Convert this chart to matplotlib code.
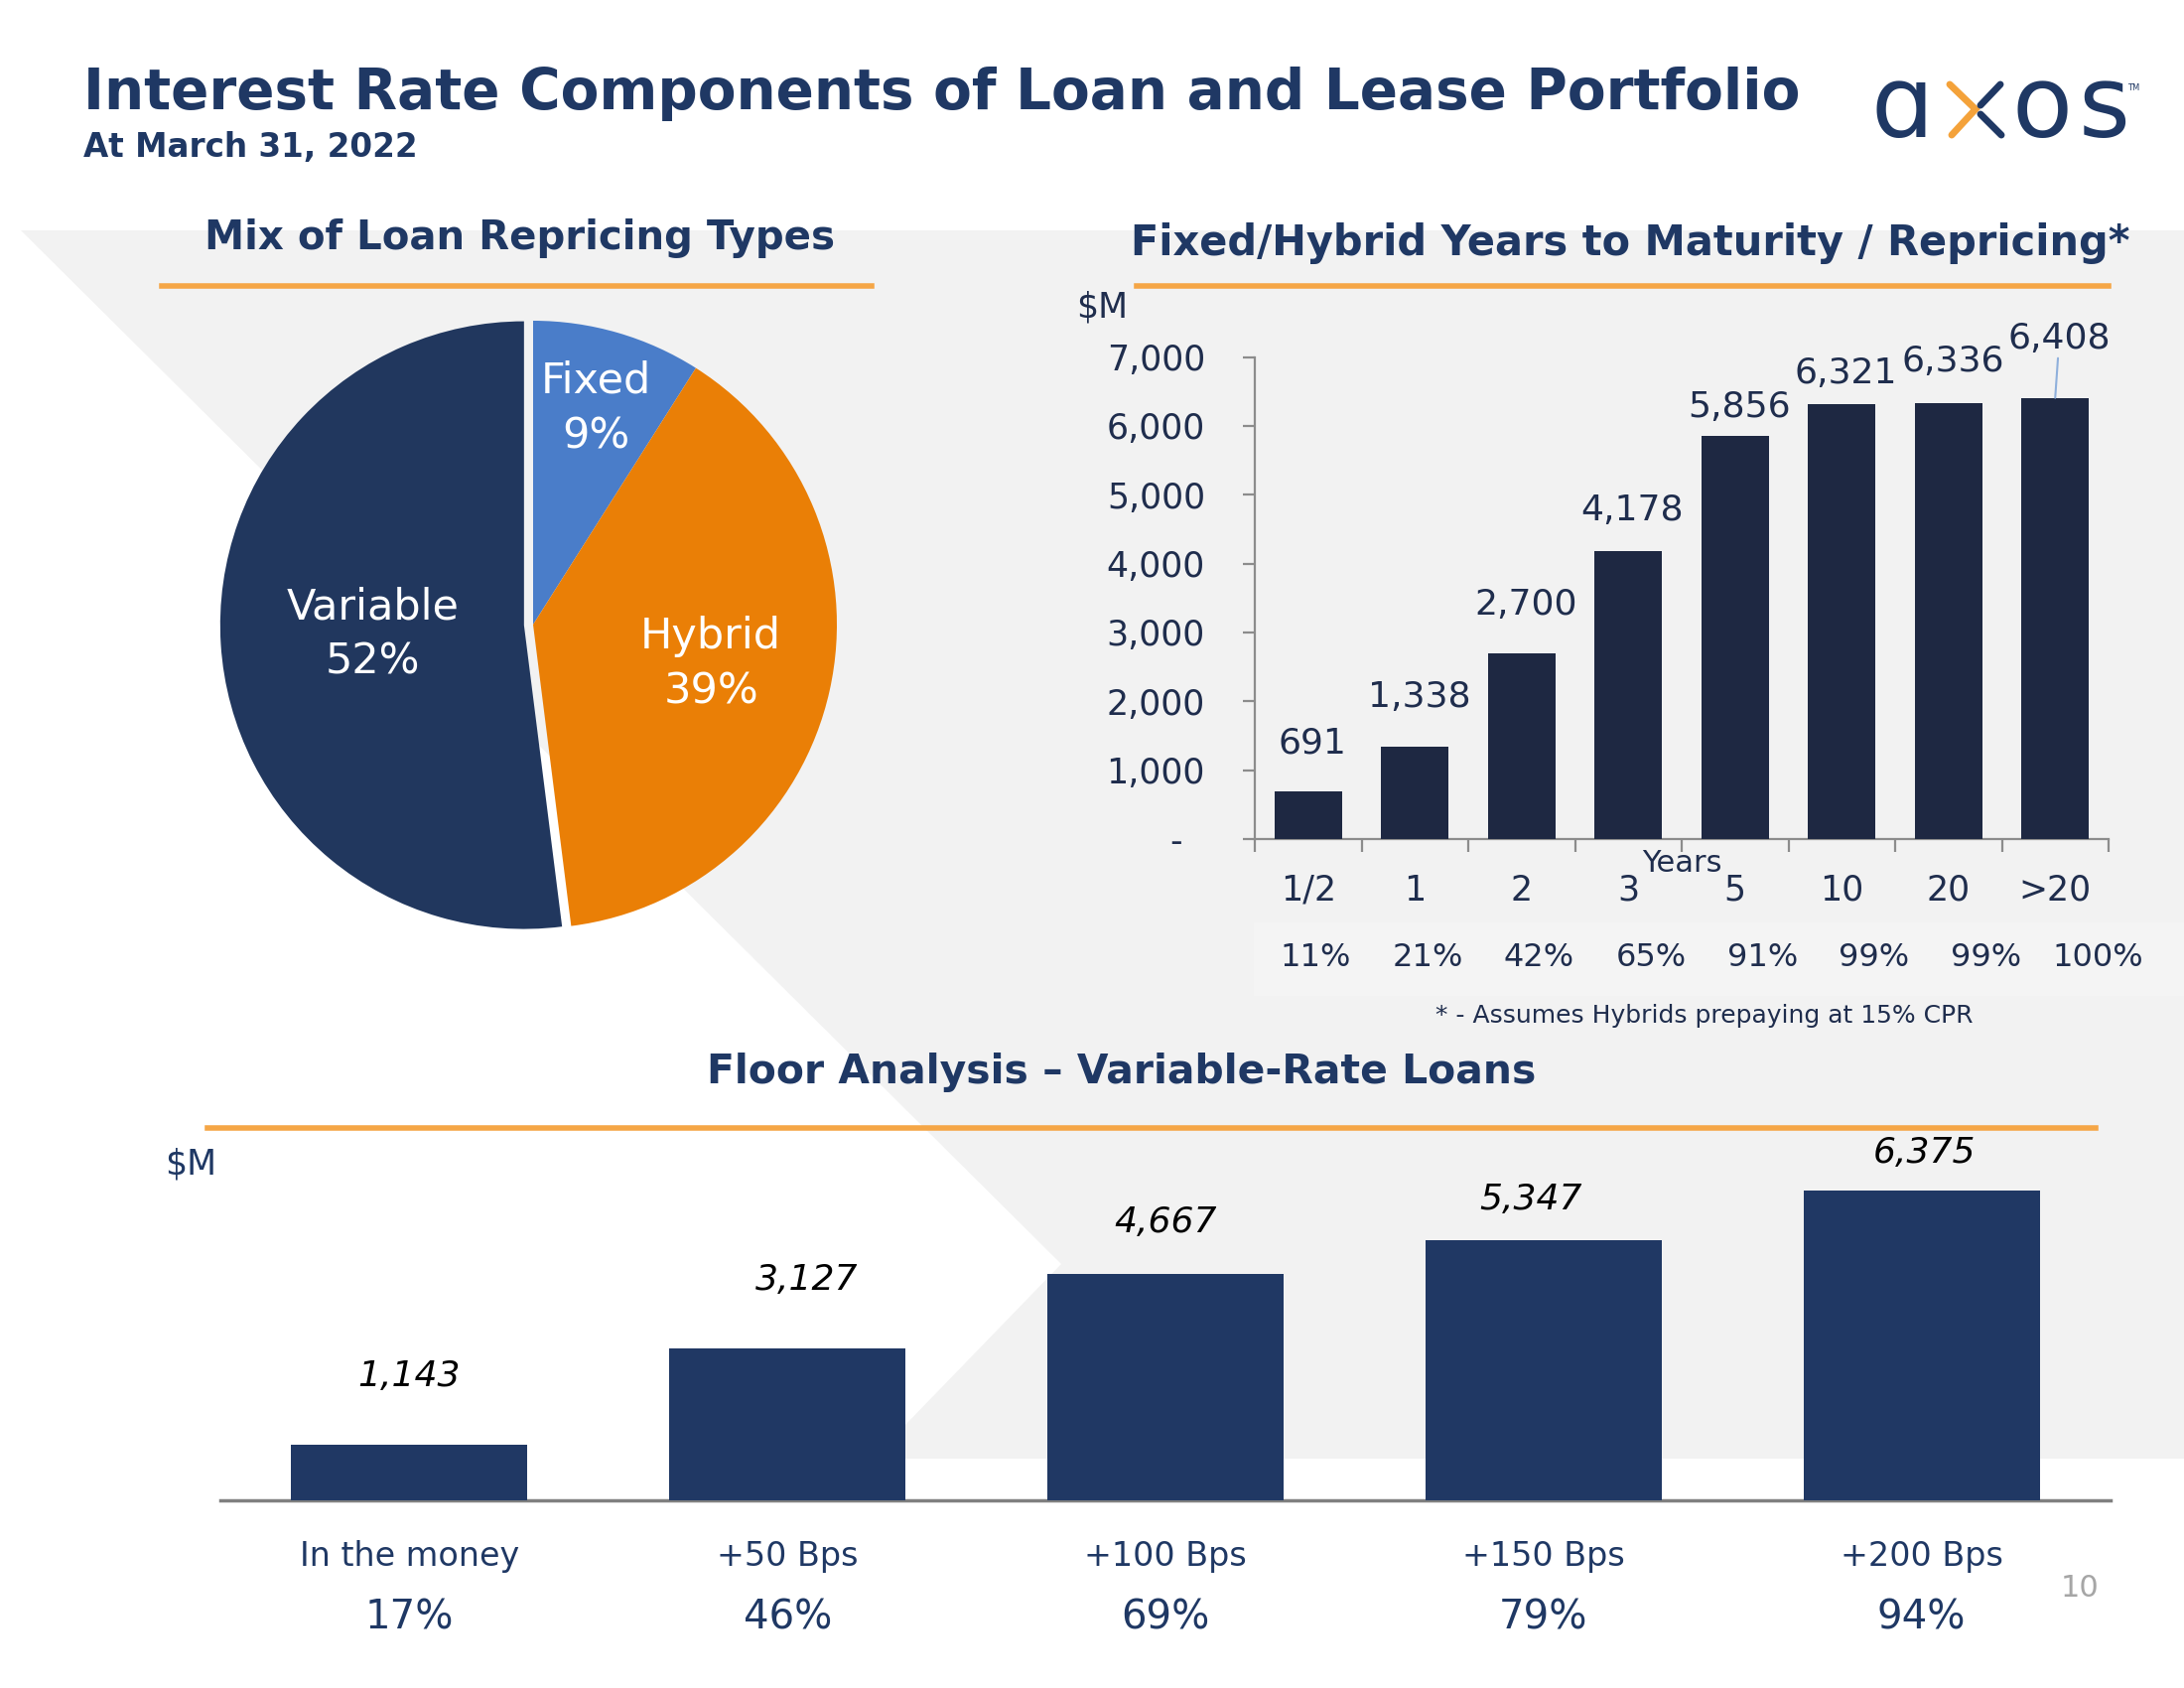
import numpy as np
import matplotlib.pyplot as plt
from matplotlib.patches import Polygon, Rectangle
from matplotlib.lines import Line2D
from matplotlib.ticker import FuncFormatter

# --- data -------------------------------------------------------------
mix_labels = ["Fixed", "Hybrid", "Variable"]
mix_pct = [9, 39, 52]

years = ["1/2", "1", "2", "3", "5", "10", "20", ">20"]
cum_balance = [691, 1338, 2700, 4178, 5856, 6321, 6336, 6408]
cum_pct = ["11%", "21%", "42%", "65%", "91%", "99%", "99%", "100%"]

floor_cats = ["In the money", "+50 Bps", "+100 Bps", "+150 Bps", "+200 Bps"]
floor_balance = [1143, 3127, 4667, 5347, 6375]
floor_pct = ["17%", "46%", "69%", "79%", "94%"]

# --- style ------------------------------------------------------------
NAVY = "#1F3864"
DARK = "#1E2842"
BAR2 = "#203864"
ORANGE = "#F5A646"
GRAY_BG = "#F2F2F2"
TXT = "#1F2D4D"
pie_colors = ["#4A7DC9", "#EA7F06", "#21375E"]

plt.rcParams['font.family'] = ['DejaVu Sans']

W, H = 2200, 1700
fig = plt.figure(figsize=(22, 17), dpi=100)

bg = fig.add_axes([0, 0, 1, 1], zorder=0)
bg.set_xlim(0, W)
bg.set_ylim(H, 0)
bg.axis('off')


def px_axes(x0, y0, x1, y1):
    a = fig.add_axes([x0 / W, 1 - y1 / H, (x1 - x0) / W, (y1 - y0) / H], zorder=2)
    a.patch.set_alpha(0)
    return a


# background shape
bg.add_patch(Polygon([(21, 232), (2200, 232), (2200, 1469), (879, 1469), (1069, 1273)],
                     closed=True, fc=GRAY_BG, ec='none'))
bg.add_patch(Rectangle((1263, 929), 937, 74, fc="#F4F4F4", ec='none'))

# titles
bg.text(84, 94, "Interest Rate Components of Loan and Lease Portfolio", fontsize=40.7,
        weight='bold', color=NAVY, va='center', ha='left')
bg.text(84, 148, "At March 31, 2022", fontsize=23.5, weight='bold', color=NAVY,
        va='center', ha='left')

# logo
bg.text(1916, 138, "\u0251", fontsize=72, color=NAVY, ha='center', va='baseline')
bg.text(2057, 138, "o", fontsize=72, color=NAVY, ha='center', va='baseline')
bg.text(2120, 138, "s", fontsize=72, color=NAVY, ha='center', va='baseline')
bg.add_line(Line2D([1964, 1990, 1966], [85, 110, 136], color="#F4A23A", lw=5,
                   solid_capstyle='round', solid_joinstyle='miter'))
bg.add_line(Line2D([1995, 2015], [106, 85], color=NAVY, lw=5, solid_capstyle='round'))
bg.add_line(Line2D([1995, 2016], [115, 136], color=NAVY, lw=5, solid_capstyle='round'))
bg.text(2149, 88, "TM", fontsize=6, color=NAVY, ha='center', va='center')

# section headers + orange rules
bg.text(524, 240, "Mix of Loan Repricing Types", fontsize=29, weight='bold',
        color=NAVY, ha='center', va='center')
bg.plot([163, 878], [288, 288], color=ORANGE, lw=4)
bg.text(1642, 245, "Fixed/Hybrid Years to Maturity / Repricing*", fontsize=29.9,
        weight='bold', color=NAVY, ha='center', va='center')
bg.plot([1145, 2124], [288, 288], color=ORANGE, lw=4)
bg.text(1130, 1080, "Floor Analysis \u2013 Variable-Rate Loans", fontsize=29.4,
        weight='bold', color=NAVY, ha='center', va='center')
bg.plot([209, 2111], [1136, 1136], color=ORANGE, lw=4)

bg.text(1110, 309, "$M", fontsize=25, color=TXT, ha='center', va='center')
bg.text(192, 1173, "$M", fontsize=25, color=NAVY, ha='center', va='center')
bg.text(1717, 1023, "* - Assumes Hybrids prepaying at 15% CPR", fontsize=18,
        color=TXT, ha='center', va='center')
bg.text(2095, 1600, "10", fontsize=22, color="#A6A6A6", ha='center', va='center')

# --- pie --------------------------------------------------------------
R = 306
pad = 1.12
axp = px_axes(537 - R * pad, 629 - R * pad, 537 + R * pad, 629 + R * pad)
wedges, _ = axp.pie(mix_pct, colors=pie_colors, startangle=90, counterclock=False,
                    explode=[0, 0, 0.03], radius=1)
axp.set_xlim(-pad, pad)
axp.set_ylim(-pad, pad)
axp.set_aspect('equal')
axp.axis('off')
label_r = [0.74, 0.6, 0.5]
for w, name, p, lr in zip(wedges, mix_labels, mix_pct, label_r):
    ang = np.deg2rad((w.theta1 + w.theta2) / 2)
    cx, cy = w.center
    axp.text(cx + lr * np.cos(ang), cy + lr * np.sin(ang), f"{name}\n{p}%",
             fontsize=31, color='white', ha='center', va='center', linespacing=1.4)

# --- fixed / hybrid bars ----------------------------------------------
ax1 = px_axes(1264, 359.6, 2124, 845)
x1 = np.arange(len(years))
ax1.bar(x1, cum_balance, width=0.63, color=DARK, zorder=3)
ax1.set_xlim(-0.5, len(years) - 0.5)
ax1.set_ylim(0, 7000)
ax1.set_yticks(np.arange(0, 7001, 1000))
ax1.yaxis.set_major_formatter(FuncFormatter(lambda v, _: "-  " if v == 0 else f"{v:,.0f}"))
ax1.set_xticks(x1)
ax1.set_xticklabels(years)
ax1.set_xticks(np.arange(-0.5, len(years)), minor=True)
ax1.tick_params(axis='x', which='major', length=0, pad=25, labelsize=25, labelcolor=TXT)
ax1.tick_params(axis='x', which='minor', length=9, width=1.6, color='#8C8C8C', direction='out')
ax1.tick_params(axis='y', length=9, width=1.6, color='#8C8C8C', pad=27, labelsize=25,
                labelcolor=TXT)
for s in ['top', 'right']:
    ax1.spines[s].set_visible(False)
for s in ['left', 'bottom']:
    ax1.spines[s].set_color('#8C8C8C')
    ax1.spines[s].set_linewidth(1.6)

lab_off = [35, 36, 35, 30, 21, 22, 30, 43]
for i, (v, off) in enumerate(zip(cum_balance, lab_off)):
    arrow = dict(arrowstyle='-', color='#8FB0DC', lw=1.5, shrinkA=0, shrinkB=0) if i == len(cum_balance) - 1 else None
    ax1.annotate(f"{v:,}", xy=(i, v), xytext=(3, off), textcoords='offset points',
                 ha='center', va='center', fontsize=26, color=TXT, arrowprops=arrow)

ax1.text(3.5, -0.05, "Years", transform=ax1.get_xaxis_transform(), fontsize=22,
         color=TXT, ha='center', va='center')
for i, p in enumerate(cum_pct):
    ax1.text(i * 1.047 + 0.07, -0.247, p, transform=ax1.get_xaxis_transform(),
             fontsize=23, color=TXT, ha='center', va='center')

# --- floor analysis bars ----------------------------------------------
ax2 = px_axes(222, 1150, 2126, 1511)
x2 = np.arange(len(floor_cats))
ax2.bar(x2, floor_balance, width=0.625, color=BAR2, zorder=3)
ax2.set_xlim(-0.5, len(floor_cats) - 0.5)
ax2.set_ylim(0, 7376)
ax2.set_yticks([])
ax2.set_xticks(x2)
ax2.set_xticklabels(floor_cats)
ax2.tick_params(axis='x', length=0, pad=29, labelsize=24, labelcolor=NAVY)
for s in ['top', 'right', 'left']:
    ax2.spines[s].set_visible(False)
ax2.spines['bottom'].set_color('#808080')
ax2.spines['bottom'].set_linewidth(2.5)

val_off = [(0, 50), (14, 50), (0, 37), (-9, 30), (2, 27)]
for i, (v, (dx, dy)) in enumerate(zip(floor_balance, val_off)):
    ax2.annotate(f"{v:,}", xy=(i, v), xytext=(dx, dy), textcoords='offset points',
                 ha='center', va='center', fontsize=26, style='italic', color='black')
for i, p in enumerate(floor_pct):
    ax2.text(i, -0.327, p, transform=ax2.get_xaxis_transform(), fontsize=29,
             color=NAVY, ha='center', va='center')

fig.savefig("out.png", dpi=100, facecolor='white')
